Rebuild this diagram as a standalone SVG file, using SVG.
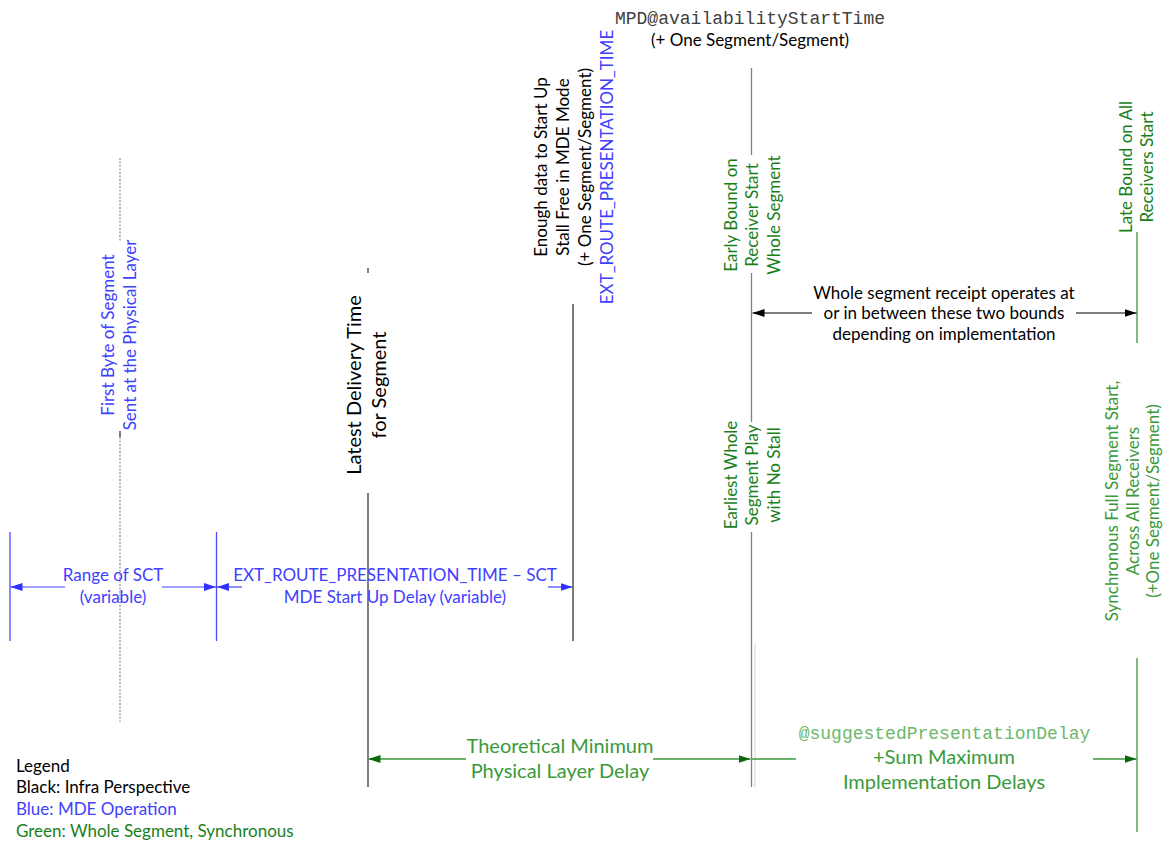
<svg xmlns="http://www.w3.org/2000/svg" width="1164" height="842" viewBox="0 0 1164 842">
<style>
.t{font-family:Lato,"Open Sans","Liberation Sans",sans-serif;font-size:17px;text-anchor:middle}
.big{font-size:20px}
.mono{font-family:"Liberation Mono","Courier New",monospace;font-size:18px;text-anchor:middle}
.blk{fill:#000}
.blu{fill:#4040ff}
.dg{fill:#1a7f1a}
.lg{fill:#3a9a3a}
.lg2{fill:#6cb86c}
.gray{fill:#404040}
.left{text-anchor:start}
.ln{fill:none;stroke-width:1.3}
</style>
<defs>
<marker id="ahK" viewBox="0 0 12 8" refX="12" refY="4" markerWidth="12" markerHeight="8" orient="auto" markerUnits="userSpaceOnUse"><path d="M0,0 L12,4 L0,8 z" fill="#000"/></marker>
<marker id="ahB" viewBox="0 0 12 8" refX="12" refY="4" markerWidth="12" markerHeight="8" orient="auto" markerUnits="userSpaceOnUse"><path d="M0,0 L12,4 L0,8 z" fill="#3030ff"/></marker>
<marker id="ahG" viewBox="0 0 12 8" refX="12" refY="4" markerWidth="12" markerHeight="8" orient="auto" markerUnits="userSpaceOnUse"><path d="M0,0 L12,4 L0,8 z" fill="#0a6a0a"/></marker>
</defs>
<rect width="1164" height="842" fill="#fff"/>

<g id="first-byte">
<path class="ln" d="M120,158 V241 M120,437 V722" stroke="#999" stroke-dasharray="2,1.5"/>
<path class="ln" d="M120,431 V437" stroke="#333"/>
<text class="t blu" transform="translate(114,335) rotate(-90)">First Byte of Segment</text>
<text class="t blu" transform="translate(136,335) rotate(-90)">Sent at the Physical Layer</text>
</g>

<g id="latest-delivery">
<path class="ln" d="M368,268 V273 M368,493 V787" stroke="#3c3c3c"/>
<text class="t big blk" transform="translate(361,385) rotate(-90)">Latest Delivery Time</text>
<text class="t big blk" transform="translate(386,385) rotate(-90)">for Segment</text>
</g>

<g id="enough-data">
<path class="ln" d="M573,304 V641" stroke="#333"/>
<text class="t blk" transform="translate(547,167) rotate(-90)">Enough data to Start Up</text>
<text class="t blk" transform="translate(569,167) rotate(-90)">Stall Free in MDE Mode</text>
<text class="t blk" transform="translate(591,167) rotate(-90)">(+ One Segment/Segment)</text>
<text class="t blu" transform="translate(613,167) rotate(-90)">EXT_ROUTE_PRESENTATION_TIME</text>
</g>

<g id="availability-start">
<text class="mono gray" x="750" y="24">MPD@availabilityStartTime</text>
<text class="t blk" x="750" y="46">(+ One Segment/Segment)</text>
<path class="ln" d="M751.5,68 V155 M751.5,273 V422 M751.5,532 V787" stroke="#808080" stroke-width="1.5"/>
<path d="M755,643 V787" stroke="#e2e2e2" stroke-width="1.5"/>
<text class="t dg" transform="translate(737,215) rotate(-90)">Early Bound on</text>
<text class="t dg" transform="translate(758,215) rotate(-90)">Receiver Start</text>
<text class="t dg" transform="translate(780,215) rotate(-90)">Whole Segment</text>
<text class="t dg" transform="translate(737,475) rotate(-90)">Earliest Whole</text>
<text class="t dg" transform="translate(758,475) rotate(-90)">Segment Play</text>
<text class="t dg" transform="translate(780,475) rotate(-90)">with No Stall</text>
</g>

<g id="late-bound">
<path class="ln" d="M1137,232 V343 M1137,658 V832" stroke="#3a9a3a"/>
<text class="t dg" transform="translate(1132,167) rotate(-90)">Late Bound on All</text>
<text class="t dg" transform="translate(1153,167) rotate(-90)">Receivers Start</text>
<text class="t lg" transform="translate(1118,501) rotate(-90)">Synchronous Full Segment Start,</text>
<text class="t lg" transform="translate(1139,501) rotate(-90)">Across All Receivers</text>
<text class="t lg" transform="translate(1159,501) rotate(-90)">(+One Segment/Segment)</text>
</g>

<g id="sct-bounds">
<path class="ln" d="M10,532 V641 M216.5,532 V641" stroke="#4a4aff"/>
</g>

<g id="connectors">
<g id="c-whole-segment">
<path d="M812,313 H752.5" stroke="#000" stroke-width="1.2" marker-end="url(#ahK)"/>
<path d="M1076,313 H1136.5" stroke="#000" stroke-width="1.2" marker-end="url(#ahK)"/>
<text class="t blk" x="944" y="299">Whole segment receipt operates at</text>
<text class="t blk" x="944" y="319">or in between these two bounds</text>
<text class="t blk" x="944" y="340">depending on implementation</text>
</g>
<g id="c-range-sct">
<path d="M65,587 H10.5" stroke="#4040ff" stroke-width="1.2" marker-end="url(#ahB)"/>
<path d="M162,587 H216" stroke="#4040ff" stroke-width="1.2" marker-end="url(#ahB)"/>
<text class="t blu" x="113" y="581">Range of SCT</text>
<text class="t blu" x="113" y="603">(variable)</text>
</g>
<g id="c-mde-delay">
<path d="M242,587 H217" stroke="#4040ff" stroke-width="1.2" marker-end="url(#ahB)"/>
<path d="M548,587 H572.5" stroke="#4040ff" stroke-width="1.2" marker-end="url(#ahB)"/>
<text class="t blu" x="395" y="581">EXT_ROUTE_PRESENTATION_TIME – SCT</text>
<text class="t blu" x="395" y="603">MDE Start Up Delay (variable)</text>
</g>
<g id="c-phys-delay">
<path d="M466,759 H368.5" stroke="#3a9a3a" stroke-width="1.3" marker-end="url(#ahG)"/>
<path d="M653,759 H750.5" stroke="#3a9a3a" stroke-width="1.3" marker-end="url(#ahG)"/>
<text class="t big lg" x="560" y="753">Theoretical Minimum</text>
<text class="t big lg" x="560" y="778">Physical Layer Delay</text>
</g>
<g id="c-presentation-delay">
<path d="M752,759 H796" stroke="#3a9a3a" stroke-width="1.3"/>
<path d="M1093,759 H1136.5" stroke="#3a9a3a" stroke-width="1.3" marker-end="url(#ahG)"/>
<text class="mono lg2" x="944.5" y="739">@suggestedPresentationDelay</text>
<text class="t big lg" x="944" y="764">+Sum Maximum</text>
<text class="t big lg" x="944" y="789">Implementation Delays</text>
</g>
</g>

<g id="legend">
<text class="t left blk" x="16" y="772">Legend</text>
<text class="t left blk" x="16" y="793">Black: Infra Perspective</text>
<text class="t left blu" x="16" y="815">Blue: MDE Operation</text>
<text class="t left dg" x="16" y="837">Green: Whole Segment, Synchronous</text>
</g>
</svg>
